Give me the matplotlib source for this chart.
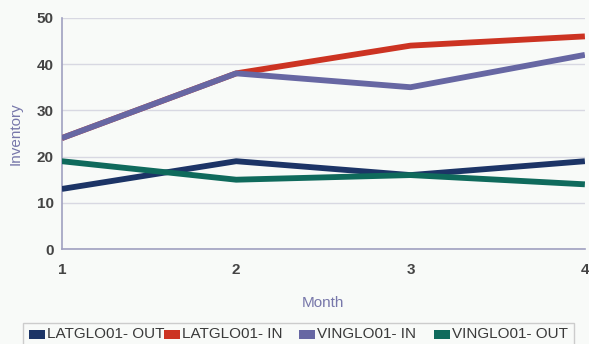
import matplotlib.pyplot as plt
from matplotlib.patches import Rectangle

plt.rcParams['font.family'] = ['Liberation Sans', 'DejaVu Sans']

months = [1, 2, 3, 4]
lat_out = [13, 19, 16, 19]
lat_in = [24, 38, 44, 46]
ving_in = [24, 38, 35, 42]
ving_out = [19, 15, 16, 14]

names = ['LATGLO01- OUT', 'LATGLO01- IN', 'VINGLO01- IN', 'VINGLO01- OUT']
colors = ['#1c3466', '#cc3322', '#6767a3', '#0f6a5c']
series = [lat_out, lat_in, ving_in, ving_out]

W, H = 589, 344
bg = '#f8faf8'
fig = plt.figure(figsize=(W / 100, H / 100), dpi=100, facecolor=bg)
ax = fig.add_axes([0.105, 0.276, 0.888, 0.672], facecolor=bg)

# red first so the purple line covers it where they overlap
for i in [1, 2, 0, 3]:
    ax.plot(months, series[i], color=colors[i], lw=4.2, solid_capstyle='butt', zorder=3)

ax.set_xlim(1, 4)
ax.set_ylim(0, 50)
ax.set_xticks(months)
ax.set_yticks(range(0, 51, 10))
ax.grid(axis='y', color='#d8d8e2', lw=1)
ax.set_axisbelow(True)
for s in ['top', 'right']:
    ax.spines[s].set_visible(False)
for s in ['left', 'bottom']:
    ax.spines[s].set_color('#a0a0c0')
    ax.spines[s].set_linewidth(1.2)
ax.tick_params(length=0, labelsize=11, labelcolor='#444444', pad=6)
ax.tick_params(axis='x', pad=10)
for lbl in ax.get_xticklabels() + ax.get_yticklabels():
    lbl.set_fontweight('bold')

ax.set_xlabel('Month', color='#7777aa', fontsize=11, labelpad=14)
ax.set_ylabel('Inventory', color='#7777aa', fontsize=11, labelpad=10)

# legend with equal-width columns, laid out in pixel coords
fig.add_artist(Rectangle((23 / W, -0.02), (574 - 23) / W, (H - 323) / H + 0.02,
                         transform=fig.transFigure, facecolor=bg,
                         edgecolor='#cccccc', lw=1))
for i, (name, c) in enumerate(zip(names, colors)):
    x0 = 29 + 135 * i
    fig.add_artist(Rectangle((x0 / W, (H - 339) / H), 16 / W, 9 / H,
                             transform=fig.transFigure, facecolor=c, edgecolor='none'))
    fig.text((x0 + 18) / W, (H - 334.5) / H, name, fontsize=11, color='#3a3a3a',
             va='center', ha='left')

fig.savefig('out.png', dpi=100, facecolor=bg)
